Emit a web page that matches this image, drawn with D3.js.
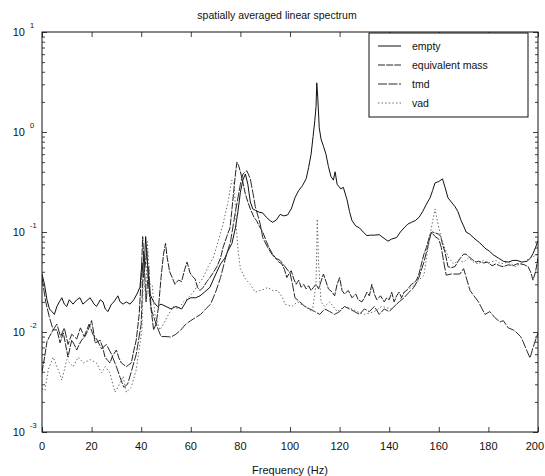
<!DOCTYPE html>
<html>
<head>
<meta charset="utf-8">
<script src="https://cdn.jsdelivr.net/npm/d3@7"></script>
<style>
  html, body { margin: 0; padding: 0; background: #fff; }
  svg { display: block; font-family: "Liberation Sans", Arial, Helvetica, sans-serif; }
</style>
</head>
<body>
<svg id="chart" width="545" height="476"></svg>
<script>
// ---------------- data ----------------
const titleText = "spatially averaged linear spectrum";
const xLabelText = "Frequency (Hz)";
const xTicks = [0, 20, 40, 60, 80, 100, 120, 140, 160, 180, 200];
const yDecades = [-3, -2, -1, 0, 1];
const seriesNames = ["empty", "equivalent mass", "tmd", "vad"];

const empty = [
[0,0.038],[1,0.03],[2,0.021],[3,0.017],[4,0.016],[5,0.015],[6,0.018],[7,0.02],[8,0.022],[9,0.019],[10,0.018],[11,0.021],[12.5,0.019],[14,0.021],[15.3,0.022],[16.5,0.019],[17.5,0.02],[19.4,0.022],[21,0.019],[22,0.018],[23.5,0.021],[24.6,0.02],[25.5,0.017],[26.6,0.016],[28,0.019],[29,0.02],[30.6,0.023],[31.5,0.02],[32.7,0.019],[34,0.02],[35.5,0.019],[37,0.021],[38.3,0.024],[39.5,0.028],[40.3,0.049],[41,0.035],[41.8,0.09],[42.5,0.05],[43.5,0.024],[45,0.02],[46.5,0.018],[48,0.019],[50,0.018],[52,0.017],[54,0.018],[56.3,0.017],[57.5,0.019],[58.5,0.021],[60,0.022],[62,0.022],[63.7,0.023],[65.5,0.025],[67.7,0.028],[69,0.033],[70.5,0.04],[72,0.048],[73.8,0.055],[75,0.065],[76.6,0.077],[78,0.11],[79,0.16],[80,0.25],[81,0.33],[82,0.38],[83,0.3],[84,0.2],[85,0.17],[86,0.165],[87.5,0.158],[89,0.155],[90.5,0.14],[92,0.13],[93,0.125],[94.5,0.132],[96,0.15],[97.5,0.145],[99,0.148],[100.5,0.17],[102,0.22],[103.5,0.26],[105,0.29],[106.5,0.34],[107.5,0.44],[108.5,0.6],[109.3,0.9],[110,1.3],[110.5,1.8],[110.8,3.1],[111.2,2.2],[111.8,1.1],[112.5,0.85],[113.5,0.72],[114.5,0.6],[115.5,0.45],[116.5,0.36],[117.5,0.33],[118.2,0.4],[119,0.3],[120.5,0.27],[121.5,0.28],[123,0.21],[124,0.16],[125,0.13],[126.5,0.115],[128,0.11],[129.5,0.1],[131,0.092],[132.5,0.093],[134,0.093],[136,0.094],[137.5,0.088],[139.5,0.081],[141,0.085],[143,0.088],[144.5,0.1],[146,0.11],[147.5,0.12],[149,0.125],[150.5,0.13],[152,0.14],[153.5,0.16],[155,0.19],[156.5,0.22],[157.5,0.26],[158.5,0.31],[160,0.32],[161.5,0.34],[162.5,0.28],[163.7,0.22],[165,0.2],[166.5,0.18],[167.7,0.16],[169,0.13],[170,0.115],[171,0.1],[172.5,0.095],[174.6,0.085],[176.5,0.078],[178.6,0.069],[180.5,0.064],[182,0.059],[184,0.055],[186,0.051],[188,0.05],[190,0.052],[191.5,0.052],[193.5,0.05],[195.6,0.051],[197,0.055],[198,0.061],[199,0.07],[200,0.082]
];

const equivalentMass = [
[0,0.004],[1,0.0055],[2,0.008],[3,0.009],[4.5,0.0105],[6,0.0105],[7.3,0.0078],[8.6,0.0098],[9.5,0.0075],[10.5,0.0056],[11.3,0.007],[12,0.0083],[13,0.0075],[14,0.0066],[15,0.0075],[16,0.0083],[17.3,0.009],[18.6,0.0105],[20,0.013],[20.8,0.01],[21.4,0.0078],[22.5,0.008],[23.4,0.0083],[24.5,0.007],[25.4,0.0056],[26.5,0.0052],[27.4,0.0049],[28.5,0.0058],[30,0.0066],[31,0.0055],[32,0.0049],[33,0.0047],[34,0.0045],[35,0.0047],[36,0.0049],[37,0.0065],[38,0.0083],[39.2,0.015],[40,0.035],[40.6,0.09],[41.3,0.04],[42.3,0.065],[43.2,0.025],[44,0.017],[45,0.0105],[46,0.012],[47,0.018],[48,0.035],[49,0.06],[49.8,0.077],[50.5,0.055],[51.5,0.04],[52.5,0.035],[53.6,0.03],[55,0.033],[56.3,0.032],[57.5,0.042],[58.5,0.05],[59.7,0.039],[60.7,0.036],[61.7,0.034],[62.7,0.028],[63.7,0.026],[65,0.028],[66.5,0.032],[67.7,0.035],[69,0.039],[70.5,0.045],[72,0.055],[73,0.07],[74.5,0.09],[75.8,0.11],[76.5,0.16],[77.2,0.24],[78,0.38],[78.6,0.5],[79.3,0.46],[80,0.4],[80.8,0.33],[82,0.24],[83,0.2],[84,0.17],[85.5,0.14],[86.5,0.13],[88,0.11],[89,0.1],[90.5,0.08],[91.5,0.07],[93,0.06],[94.2,0.055],[95.5,0.05],[96.7,0.048],[97.8,0.042],[98.7,0.035],[99.5,0.038],[100.5,0.041],[101.5,0.034],[102.5,0.03],[103.5,0.033],[104.5,0.028],[105.5,0.03],[106.5,0.027],[107.5,0.029],[108.5,0.026],[109.5,0.028],[110.5,0.03],[111.5,0.027],[112.5,0.032],[113.5,0.038],[114.5,0.032],[115.5,0.027],[117,0.025],[118,0.023],[119,0.03],[120,0.035],[121,0.026],[122,0.024],[123.5,0.026],[125,0.022],[126.5,0.024],[127.5,0.021],[129,0.02],[130,0.022],[131,0.025],[132,0.023],[133,0.03],[134,0.024],[135,0.021],[136.5,0.023],[138,0.02],[139,0.022],[140,0.021],[141,0.025],[142,0.02],[143,0.023],[144,0.025],[145,0.022],[146,0.025],[147,0.026],[148,0.028],[149,0.03],[150,0.031],[151,0.033],[152,0.038],[153,0.048],[154,0.06],[155,0.07],[156.5,0.095],[157.5,0.1],[158.5,0.098],[160,0.095],[160.8,0.09],[161.5,0.075],[162.5,0.063],[163.7,0.045],[165,0.044],[166.5,0.045],[168,0.052],[169,0.056],[170,0.06],[171,0.06],[172,0.057],[173.5,0.053],[175,0.05],[176,0.051],[178,0.049],[179.5,0.05],[181.5,0.046],[183,0.048],[184.5,0.046],[186,0.045],[188,0.047],[190,0.046],[191.5,0.048],[193,0.048],[194.5,0.047],[196,0.045],[197,0.04],[198,0.033],[199,0.04],[200,0.055]
];

const tmd = [
[0,0.035],[1.5,0.02],[3,0.014],[4.5,0.0105],[6,0.012],[7.5,0.009],[9,0.011],[10.5,0.0075],[12,0.0095],[14,0.0085],[15.5,0.011],[17,0.009],[19,0.012],[20.5,0.0095],[22,0.0085],[24,0.0068],[26,0.0075],[28,0.006],[30,0.0045],[31.5,0.0035],[33,0.0028],[34.5,0.003],[36,0.004],[38,0.006],[40,0.012],[41,0.06],[42,0.02],[43,0.045],[44,0.017],[46,0.012],[48,0.009],[50,0.009],[52,0.0089],[54,0.0095],[56,0.0105],[58,0.012],[60,0.013],[62,0.014],[64,0.015],[66,0.017],[68,0.019],[70,0.025],[72,0.035],[74,0.055],[76,0.08],[78,0.16],[80,0.3],[81,0.38],[82.6,0.41],[84,0.34],[85,0.25],[86,0.18],[88,0.12],[89,0.088],[91,0.07],[92.7,0.06],[94,0.055],[96,0.052],[98,0.045],[100,0.039],[101,0.03],[102,0.022],[104,0.02],[106,0.018],[108,0.017],[110,0.016],[112,0.015],[114,0.017],[116,0.016],[118,0.015],[120,0.016],[122,0.018],[124,0.017],[126,0.016],[128,0.015],[130,0.017],[132,0.016],[134,0.018],[136,0.015],[138,0.017],[140,0.016],[142,0.018],[144,0.02],[146,0.022],[148,0.025],[150,0.028],[152,0.035],[154,0.05],[155.5,0.07],[157,0.1],[158.5,0.09],[160,0.085],[161,0.07],[162,0.05],[163,0.037],[165,0.038],[168.5,0.038],[170,0.043],[172.6,0.026],[176,0.02],[178.6,0.015],[180.6,0.016],[182.5,0.014],[184.7,0.0126],[186,0.013],[188,0.011],[190,0.0105],[191.5,0.0098],[193,0.009],[194,0.008],[195.5,0.0065],[196.8,0.0055],[198,0.007],[200,0.0098]
];

const vad = [
[0,0.0027],[1.2,0.0026],[2.5,0.0042],[4.5,0.0056],[6.5,0.0042],[8,0.0033],[10,0.0053],[12.6,0.0045],[14.6,0.0056],[16.7,0.0049],[19.4,0.0053],[22,0.0049],[24,0.0039],[25.5,0.0045],[27.4,0.0039],[29.4,0.0025],[30.6,0.0028],[32.7,0.0036],[34,0.0025],[36,0.0028],[38,0.0042],[40.3,0.0105],[41,0.05],[41.8,0.02],[42.5,0.08],[43.5,0.03],[44.4,0.03],[45.5,0.015],[47.5,0.0105],[49,0.012],[51,0.015],[53,0.018],[55,0.017],[57,0.02],[59,0.022],[61,0.025],[63,0.03],[65,0.035],[67,0.045],[69,0.055],[71,0.08],[73,0.12],[75,0.2],[76.5,0.33],[77.5,0.3],[78.5,0.1],[79,0.068],[80,0.043],[82,0.034],[84,0.03],[86,0.025],[88,0.026],[90,0.027],[91,0.028],[93,0.026],[95,0.026],[97,0.022],[98,0.019],[100.8,0.018],[103,0.02],[106,0.018],[109,0.016],[110.5,0.03],[111,0.135],[111.5,0.05],[112.5,0.02],[114,0.018],[116,0.02],[119,0.016],[122,0.018],[125,0.017],[127,0.016],[130,0.015],[134,0.016],[137,0.018],[141,0.017],[144,0.02],[146,0.025],[148,0.027],[150,0.029],[152,0.033],[154,0.037],[155.6,0.068],[157,0.11],[158.5,0.17],[159.7,0.12],[161,0.086],[162.5,0.068],[164,0.055],[166,0.048],[168,0.052],[170,0.05],[172,0.055],[174,0.05],[176,0.048],[178,0.052],[180,0.049],[183,0.052],[185,0.048],[188,0.05],[191,0.045],[194,0.05],[197,0.055],[200,0.06]
];

const seriesData = [empty, equivalentMass, tmd, vad];

// ---------------- styles ----------------
const styles = [
  { stroke: "#111", width: 1.0, dash: null },
  { stroke: "#222", width: 1.0, dash: "7,1.2" },
  { stroke: "#2a2a2a", width: 1.0, dash: "9,1.5" },
  { stroke: "#666", width: 1.0, dash: "1.4,2.2" }
];

// ---------------- layout ----------------
const svg = d3.select("#chart");
const L = 42, R = 538, T = 32, B = 432;
const x = d3.scaleLinear().domain([0, 200]).range([L, R]);
const y = d3.scaleLog().domain([1e-3, 10]).range([B, T]);

svg.append("defs").append("clipPath").attr("id", "plotclip")
  .append("rect").attr("x", L).attr("y", T).attr("width", R - L).attr("height", B - T);

// title
svg.append("text").attr("x", 277).attr("y", 19).attr("text-anchor", "middle")
  .attr("font-size", 10.5).attr("fill", "#111").text(titleText);

// lines
const line = d3.line().x(d => x(d[0])).y(d => y(d[1]));
const g = svg.append("g").attr("clip-path", "url(#plotclip)");
seriesData.forEach((s, i) => {
  g.append("path").datum(s).attr("d", line).attr("fill", "none")
    .attr("stroke", styles[i].stroke).attr("stroke-width", styles[i].width)
    .attr("stroke-dasharray", styles[i].dash).attr("stroke-linejoin", "round");
});

// axes (ticks inward, on all four sides)
const axB = d3.axisBottom(x).tickValues(xTicks).tickSizeInner(-5).tickSizeOuter(0).tickFormat("");
const axT = d3.axisTop(x).tickValues(xTicks).tickSizeInner(-5).tickSizeOuter(0).tickFormat("");
svg.append("g").attr("transform", `translate(0,${B})`).call(axB);
svg.append("g").attr("transform", `translate(0,${T})`).call(axT);

const minorVals = [];
yDecades.slice(0, -1).forEach(e => { for (let k = 2; k <= 9; k++) minorVals.push(k * Math.pow(10, e)); });
const majorVals = yDecades.map(e => Math.pow(10, e));
[[d3.axisLeft, L], [d3.axisRight, R]].forEach(([fn, pos]) => {
  svg.append("g").attr("transform", `translate(${pos},0)`)
    .call(fn(y).tickValues(majorVals).tickSizeInner(-5).tickSizeOuter(0).tickFormat(""));
  svg.append("g").attr("transform", `translate(${pos},0)`)
    .call(fn(y).tickValues(minorVals).tickSizeInner(-3).tickSizeOuter(0).tickFormat(""));
});
svg.selectAll(".domain").remove();
svg.selectAll(".tick line").attr("stroke", "#111").attr("stroke-width", 0.8);

// frame
svg.append("rect").attr("x", L).attr("y", T).attr("width", R - L).attr("height", B - T)
  .attr("fill", "none").attr("stroke", "#111").attr("stroke-width", 1);

// x tick labels (last one kept inside the window)
const lastTick = xTicks[xTicks.length - 1];
svg.append("g").selectAll("text").data(xTicks).join("text")
  .attr("x", d => d === lastTick ? 544 : x(d)).attr("y", 450)
  .attr("text-anchor", d => d === lastTick ? "end" : "middle")
  .attr("font-size", 11).attr("fill", "#111").text(d => d);

// y tick labels 10^n
const yl = svg.append("g").selectAll("g").data(yDecades).join("g");
yl.append("text").attr("x", 25).attr("y", d => y(Math.pow(10, d)) + 4)
  .attr("text-anchor", "end").attr("font-size", 11).attr("fill", "#111").text("10");
yl.append("text").attr("x", 30).attr("y", d => y(Math.pow(10, d)) - 4)
  .attr("text-anchor", "start").attr("font-size", 7.5).attr("fill", "#111").text(d => d);

// x label
svg.append("text").attr("x", (L + R) / 2).attr("y", 474).attr("text-anchor", "middle")
  .attr("font-size", 11).attr("fill", "#111").text(xLabelText);

// legend
const lg = svg.append("g");
lg.append("rect").attr("x", 369).attr("y", 33).attr("width", 159).attr("height", 84)
  .attr("fill", "#fff").attr("stroke", "#111").attr("stroke-width", 1);
seriesNames.forEach((n, i) => {
  const yy = 46 + i * 19;
  lg.append("line").attr("x1", 378).attr("x2", 401).attr("y1", yy).attr("y2", yy)
    .attr("stroke", styles[i].stroke).attr("stroke-width", styles[i].width)
    .attr("stroke-dasharray", styles[i].dash);
  lg.append("text").attr("x", 412).attr("y", yy + 3.5).attr("font-size", 10.5)
    .attr("fill", "#111").text(n);
});
</script>
</body>
</html>
